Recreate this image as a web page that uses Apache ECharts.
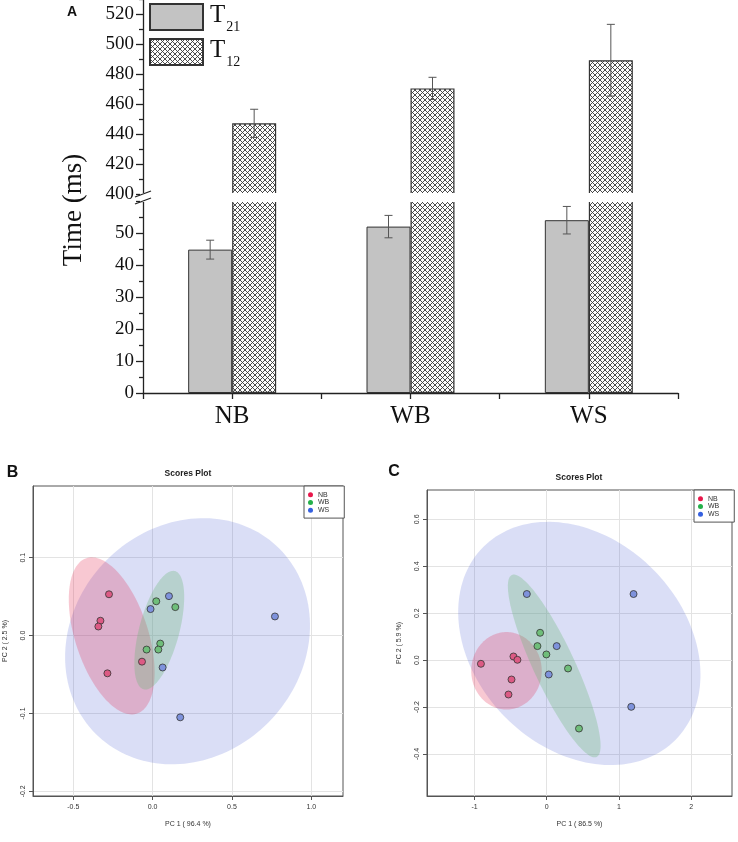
<!DOCTYPE html>
<html><head><meta charset="utf-8">
<script src="https://cdn.jsdelivr.net/npm/echarts@6/dist/echarts.min.js"></script>
<style>html,body{margin:0;padding:0;background:#fff}#c{width:738px;height:842px}</style>
</head><body><div id="c"></div>
<script>
// ---------- Panel A data ----------
const categories = ['NB', 'WB', 'WS'];
const T21 = [44.8, 52.0, 54.0];
const T21_err = [2.95, 3.5, 4.3];
const T12 = [447.1, 470.4, 489.2];
const T12_err = [9.4, 7.4, 23.9];
const upperTickLabels = [400, 420, 440, 460, 480, 500, 520];
const lowerTickLabels = [0, 10, 20, 30, 40, 50];

// ---------- Panel B data (PC1, PC2) ----------
const B_NB = [[-0.275, 0.053], [-0.329, 0.019], [-0.342, 0.0116], [-0.285, -0.0485], [-0.067, -0.0335]];
const B_WB = [[0.023, 0.044], [0.143, 0.0365], [0.048, -0.0103], [-0.038, -0.018], [0.036, -0.018]];
const B_WS = [[-0.013, 0.034], [0.103, 0.0506], [0.063, -0.041], [0.174, -0.105], [0.771, 0.0245]];
// ellipse: [cx, cy, ux, uy, vx, vy] (center + two semi-axis vectors, data units)
const B_NB_ell = [-0.2579, -0.0004, -0.1593, 0.0998, 0.2186, 0.01463];
const B_WB_ell = [0.0419, 0.00687, 0.0987, 0.0759, 0.1222, -0.00665];
const B_WS_ell = [0.2201, -0.0073, 0.5797, 0.1187, -0.5095, 0.1043];
const B_xTicks = [-0.5, 0.0, 0.5, 1.0];
const B_yTicks = [-0.2, -0.1, 0.0, 0.1];

// ---------- Panel C data ----------
const C_NB = [[-0.912, -0.0156], [-0.461, 0.0156], [-0.406, 0.0014], [-0.488, -0.0825], [-0.530, -0.1465]];
const C_WB = [[-0.092, 0.1166], [-0.129, 0.0597], [-0.005, 0.0242], [0.295, -0.0356], [0.447, -0.2916]];
const C_WS = [[-0.276, 0.2817], [1.203, 0.2817], [0.138, 0.0597], [0.028, -0.0612], [1.171, -0.199]];
const C_NB_ell = [-0.5576, -0.0455, 0.4885, 0, 0, 0.165];
const C_WB_ell = [0.1037, -0.0249, -0.5876, 0.3876, 0.259, 0.0374];
const C_WS_ell = [0.4516, 0.0711, -1.331, 0.411, 1.0226, 0.3156];
const C_xTicks = [-1, 0, 1, 2];
const C_yTicks = [-0.4, -0.2, 0.0, 0.2, 0.4, 0.6];

// ---------- styles ----------
const SERIF = 'Liberation Serif';
const SANS = 'Liberation Sans';
const BAR_W = 44;
const GRID_A_LEFT = 143;
const GRID_A_WIDTH = 535;
const ptColor = { NB: '#dc5a84', WB: '#6fbe7a', WS: '#7e92dc' };
const ellColor = { NB: 'rgba(227,35,75,0.25)', WB: 'rgba(110,185,120,0.32)', WS: 'rgba(70,90,210,0.2)' };
const legDot = { NB: '#e8174b', WB: '#25b04a', WS: '#3560e0' };

// hatch pattern
const hc = document.createElement('canvas');
hc.width = 5; hc.height = 5;
const hx = hc.getContext('2d');
hx.fillStyle = '#fff'; hx.fillRect(0, 0, 5, 5);
hx.strokeStyle = '#3a3a3a'; hx.lineWidth = 0.9;
hx.beginPath(); hx.moveTo(-1, -1); hx.lineTo(6, 6); hx.moveTo(-1, 6); hx.lineTo(6, -1); hx.stroke();
const hatch = { image: hc, repeat: 'repeat' };

const chart = echarts.init(document.getElementById('c'));

function fmt1(v) { return (Math.abs(v) < 1e-9 ? 0 : v).toFixed(1); }

function errSeries(name, xi, yi, vals, errs, offset) {
  return {
    type: 'custom', name: name, xAxisIndex: xi, yAxisIndex: yi, z: 5, silent: true,
    data: vals.map((v, i) => [i, v, errs[i]]),
    renderItem: function (params, api) {
      const x = api.coord([api.value(0), api.value(1)])[0] + offset;
      const yt = api.coord([api.value(0), api.value(1) + api.value(2)])[1];
      const yb = api.coord([api.value(0), api.value(1) - api.value(2)])[1];
      const st = { stroke: '#555', lineWidth: 1, fill: null };
      return { type: 'group', children: [
        { type: 'line', shape: { x1: x, y1: yt, x2: x, y2: yb }, style: st },
        { type: 'line', shape: { x1: x - 4, y1: yt, x2: x + 4, y2: yt }, style: st },
        { type: 'line', shape: { x1: x - 4, y1: yb, x2: x + 4, y2: yb }, style: st }
      ] };
    }
  };
}

function ellSeries(name, xi, yi, ell, color) {
  return {
    type: 'custom', name: name, xAxisIndex: xi, yAxisIndex: yi, z: 1, silent: true,
    data: [ell],
    renderItem: function (params, api) {
      const cx = api.value(0), cy = api.value(1), ux = api.value(2), uy = api.value(3), vx = api.value(4), vy = api.value(5);
      const pts = [];
      for (let k = 0; k < 160; k++) {
        const t = 2 * Math.PI * k / 160;
        pts.push(api.coord([cx + Math.cos(t) * ux + Math.sin(t) * vx, cy + Math.cos(t) * uy + Math.sin(t) * vy]));
      }
      return { type: 'polygon', shape: { points: pts }, style: { fill: color } };
    }
  };
}

function scatterSeries(name, xi, yi, data) {
  return {
    type: 'scatter', name: name, xAxisIndex: xi, yAxisIndex: yi, z: 4, data: data,
    symbol: 'circle', symbolSize: 7,
    itemStyle: { color: ptColor[name], borderColor: '#333', borderWidth: 0.8, opacity: 1 }
  };
}

function scoreXAxis(gi, min, max, step, ticks, name, labelFmt) {
  return {
    gridIndex: gi, type: 'value', min: min, max: max, minInterval: step, maxInterval: step,
    position: 'bottom',
    axisLine: { show: true, onZero: false, lineStyle: { color: '#555', width: 1 } },
    axisTick: { show: true, length: 4, customValues: ticks, lineStyle: { color: '#555' } },
    axisLabel: { show: true, customValues: ticks, fontSize: 7, fontFamily: SANS, color: '#333', margin: 8,
      formatter: labelFmt },
    splitLine: { show: true, lineStyle: { color: '#e3e3e3', width: 1 } },
    name: name, nameLocation: 'middle', nameGap: 25,
    nameTextStyle: { fontSize: 7, fontFamily: SANS, color: '#333' }
  };
}
function scoreYAxis(gi, min, max, step, ticks, name) {
  return {
    gridIndex: gi, type: 'value', min: min, max: max, minInterval: step, maxInterval: step,
    position: 'left',
    axisLine: { show: true, onZero: false, lineStyle: { color: '#555', width: 1 } },
    axisTick: { show: true, length: 4, customValues: ticks, lineStyle: { color: '#555' } },
    axisLabel: { show: true, customValues: ticks, rotate: 90, fontSize: 7, fontFamily: SANS, color: '#333', margin: 6,
      formatter: fmt1 },
    splitLine: { show: true, lineStyle: { color: '#e3e3e3', width: 1 } },
    name: name, nameLocation: 'middle', nameGap: 24, nameRotate: 90,
    nameTextStyle: { fontSize: 7, fontFamily: SANS, color: '#333' }
  };
}

function scoreLegend(left, top) {
  return {
    left: left, top: top, orient: 'vertical', icon: 'circle', itemWidth: 5, itemHeight: 5, itemGap: 0,
    padding: [5, 15, 4, 4], borderColor: '#555', borderWidth: 1, backgroundColor: '#fff',
    selectedMode: false,
    textStyle: { fontSize: 7, fontFamily: SANS, color: '#333', lineHeight: 7.7 },
    data: ['NB', 'WB', 'WS'].map(n => ({ name: n, itemStyle: { color: legDot[n], borderWidth: 0 } }))
  };
}

const axisA = { color: '#222', width: 1.3 };

const option = {
  animation: false,
  backgroundColor: '#fff',
  grid: [
    { left: GRID_A_LEFT, top: -16, width: GRID_A_WIDTH, height: 210, outerBoundsMode: 'none' },
    { left: GRID_A_LEFT, top: 201, width: GRID_A_WIDTH, height: 192, outerBoundsMode: 'none' },
    { left: 33, top: 486, width: 310, height: 310, show: true, borderColor: '#555', borderWidth: 1, outerBoundsMode: 'none' },
    { left: 427, top: 490, width: 305, height: 306, show: true, borderColor: '#555', borderWidth: 1, outerBoundsMode: 'none' }
  ],
  legend: [
    {
      left: 149, top: 3, orient: 'vertical', icon: 'rect', itemWidth: 53, itemHeight: 26, itemGap: 4, padding: 0,
      selectedMode: false,
      data: ['T21', 'T12'],
      formatter: n => '{t|T}{s|' + n.slice(1) + '}',
      textStyle: { fontFamily: SERIF, color: '#111', rich: {
        t: { fontSize: 25, fontFamily: SERIF, color: '#111', lineHeight: 28, verticalAlign: 'top', padding: [0, 0, 0, 2] },
        s: { fontSize: 14, fontFamily: SERIF, color: '#111', lineHeight: 16, verticalAlign: 'top', padding: [17, 0, 0, 1] }
      } }
    },
    scoreLegend(304, 486),
    scoreLegend(694, 490)
  ],
  xAxis: [
    { gridIndex: 0, type: 'category', data: categories, show: false },
    { gridIndex: 1, type: 'category', data: categories, position: 'bottom',
      axisLine: { show: true, lineStyle: axisA },
      axisTick: { show: true, length: 6, lineStyle: axisA },
      axisLabel: { fontSize: 25, fontFamily: SERIF, color: '#111', margin: 11 } },
    { gridIndex: 1, type: 'category', data: categories, position: 'top', offset: -192,
      axisLine: { show: false }, axisLabel: { show: false }, splitLine: { show: false },
      axisTick: { show: true, inside: true, alignWithLabel: true, length: 6, lineStyle: axisA } },
    scoreXAxis(2, -0.754, 1.2, 0.5, B_xTicks, 'PC 1 ( 96.4 %)', fmt1),
    scoreXAxis(3, -1.659, 2.567, 1, C_xTicks, 'PC 1 ( 86.5 %)', v => String(Math.round(v)))
  ],
  yAxis: [
    { gridIndex: 0, type: 'value', min: 400, max: 540, interval: 20,
      axisLine: { show: true, lineStyle: axisA },
      axisTick: { show: true, length: 7, lineStyle: axisA },
      minorTick: { show: true, splitNumber: 2, length: 4, lineStyle: axisA },
      splitLine: { show: false }, minorSplitLine: { show: false },
      axisLabel: { fontSize: 19, fontFamily: SERIF, color: '#111', margin: 9,
        formatter: v => upperTickLabels.includes(v) ? String(v) : '' } },
    { gridIndex: 1, type: 'value', min: 0, max: 60, interval: 10,
      axisLine: { show: true, lineStyle: axisA },
      axisTick: { show: true, length: 7, lineStyle: axisA },
      minorTick: { show: true, splitNumber: 2, length: 4, lineStyle: axisA },
      splitLine: { show: false }, minorSplitLine: { show: false },
      axisLabel: { fontSize: 19, fontFamily: SERIF, color: '#111', margin: 9,
        formatter: v => lowerTickLabels.includes(v) ? String(v) : '' } },
    scoreYAxis(2, -0.206, 0.192, 0.1, B_yTicks, 'PC 2 ( 2.5 %)'),
    scoreYAxis(3, -0.579, 0.725, 0.2, C_yTicks, 'PC 2 ( 5.9 %)')
  ],
  series: [
    { type: 'bar', name: 'T21', xAxisIndex: 1, yAxisIndex: 1, data: T21, barWidth: BAR_W, barGap: '0%', clip: true, z: 2,
      itemStyle: { color: '#c3c3c3', borderColor: '#333', borderWidth: 1 } },
    { type: 'bar', name: 'T12', xAxisIndex: 1, yAxisIndex: 1, data: T12, barWidth: BAR_W, barGap: '0%', clip: true, z: 2,
      itemStyle: { color: hatch, borderColor: '#333', borderWidth: 1.2 } },
    { type: 'bar', name: 'T21', xAxisIndex: 0, yAxisIndex: 0, data: T21.map(() => '-'), barWidth: BAR_W, barGap: '0%', clip: true, z: 2,
      itemStyle: { color: '#c3c3c3', borderColor: '#333', borderWidth: 1 } },
    { type: 'bar', name: 'T12', xAxisIndex: 0, yAxisIndex: 0, data: T12, barWidth: BAR_W, barGap: '0%', clip: true, z: 2,
      itemStyle: { color: hatch, borderColor: '#333', borderWidth: 1.2 } },
    errSeries('T21 err', 1, 1, T21, T21_err, -BAR_W / 2),
    errSeries('T12 err', 0, 0, T12, T12_err, BAR_W / 2),

    ellSeries('B WS ellipse', 3, 2, B_WS_ell, ellColor.WS),
    ellSeries('B NB ellipse', 3, 2, B_NB_ell, ellColor.NB),
    ellSeries('B WB ellipse', 3, 2, B_WB_ell, ellColor.WB),
    scatterSeries('NB', 3, 2, B_NB),
    scatterSeries('WB', 3, 2, B_WB),
    scatterSeries('WS', 3, 2, B_WS),

    ellSeries('C WS ellipse', 4, 3, C_WS_ell, ellColor.WS),
    ellSeries('C NB ellipse', 4, 3, C_NB_ell, ellColor.NB),
    ellSeries('C WB ellipse', 4, 3, C_WB_ell, ellColor.WB),
    scatterSeries('NB', 4, 3, C_NB),
    scatterSeries('WB', 4, 3, C_WB),
    scatterSeries('WS', 4, 3, C_WS)
  ]
};
chart.setOption(option);

// decorations: titles, rotated axis title, axis-break marks
const yUp = chart.convertToPixel({ yAxisIndex: 0 }, 400);
const yLo = chart.convertToPixel({ yAxisIndex: 1 }, 60);
const brk = { stroke: '#222', lineWidth: 1.3 };
chart.setOption({
  graphic: [
    { type: 'rect', shape: { x: GRID_A_LEFT - 3, y: yUp - 0.9, width: GRID_A_WIDTH + 3, height: yLo - yUp + 1.8 }, style: { fill: '#fff' }, z: 50 },
    { type: 'line', shape: { x1: GRID_A_LEFT - 8, y1: yUp + 3, x2: GRID_A_LEFT + 8, y2: yUp - 3 }, style: brk, z: 51 },
    { type: 'line', shape: { x1: GRID_A_LEFT - 8, y1: yLo + 3, x2: GRID_A_LEFT + 8, y2: yLo - 3 }, style: brk, z: 51 },
    { type: 'text', x: 72, y: 12, style: { text: 'A', font: 'bold 14px ' + SANS, fill: '#111', textAlign: 'center', textVerticalAlign: 'middle' } },
    { type: 'text', x: 74, y: 210, rotation: Math.PI / 2, style: { text: 'Time (ms)', font: '27px ' + SERIF, fill: '#111', textAlign: 'center', textVerticalAlign: 'middle' } },
    { type: 'text', x: 12.5, y: 472.5, style: { text: 'B', font: 'bold 16px ' + SANS, fill: '#111', textAlign: 'center', textVerticalAlign: 'middle' } },
    { type: 'text', x: 394, y: 471.5, style: { text: 'C', font: 'bold 16px ' + SANS, fill: '#111', textAlign: 'center', textVerticalAlign: 'middle' } },
    { type: 'text', x: 188, y: 473.5, style: { text: 'Scores Plot', font: 'bold 8.5px ' + SANS, fill: '#222', textAlign: 'center', textVerticalAlign: 'middle' } },
    { type: 'text', x: 579, y: 478, style: { text: 'Scores Plot', font: 'bold 8.5px ' + SANS, fill: '#222', textAlign: 'center', textVerticalAlign: 'middle' } }
  ]
});
</script>
</body></html>
